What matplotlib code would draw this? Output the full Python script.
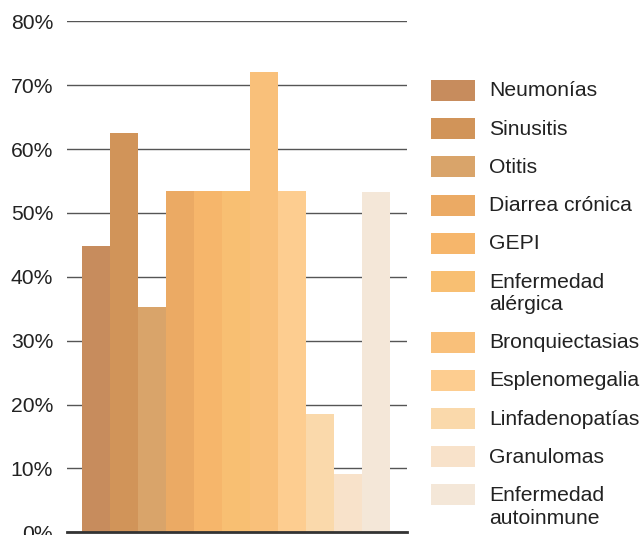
import matplotlib
matplotlib.use("Agg")
import matplotlib.pyplot as plt
from matplotlib.patches import Rectangle

plt.rcParams['font.family'] = ['Liberation Sans', 'DejaVu Sans']

# Prevalence of clinical manifestations (% of patients)
categories = [
    "Neumonías", "Sinusitis", "Otitis", "Diarrea crónica", "GEPI",
    "Enfermedad\nalérgica", "Bronquiectasias", "Esplenomegalia",
    "Linfadenopatías", "Granulomas", "Enfermedad\nautoinmune",
]
values = [44.8, 62.5, 35.3, 53.5, 53.5, 53.5, 72.0, 53.5, 18.5, 9.2, 53.3]
colors = [
    "#C78C5D", "#D19459", "#D9A46A", "#EBAA64", "#F6B66B", "#F8BF72",
    "#F9C07A", "#FDCD90", "#FAD9AB", "#F8E2CA", "#F4E7D8",
]
y_ticks = [0, 10, 20, 30, 40, 50, 60, 70, 80]
y_tick_labels = [f"{t}%" for t in y_ticks]

W, H = 641, 535
fig = plt.figure(figsize=(W / 100, H / 100), dpi=100)
ax = fig.add_axes([67 / W, 1 - 532.3 / H, 340 / W, (532.3 - 21.3) / H])

x = list(range(len(values)))
ax.bar(x, values, width=1.0, color=colors, zorder=3, linewidth=0)

ax.set_ylim(0, 80)
ax.set_xlim(-1.036, 11.107)
ax.set_yticks(y_ticks)
ax.set_yticklabels(y_tick_labels)
ax.set_xticks([])
ax.tick_params(axis='y', length=0, pad=10, labelsize=15.2, labelcolor="#222222")
ax.yaxis.grid(True, color="#555555", linewidth=1.0, zorder=0)
ax.set_axisbelow(True)
for side in ("left", "right", "top"):
    ax.spines[side].set_visible(False)
ax.spines["bottom"].set_color("#333333")
ax.spines["bottom"].set_linewidth(2.0)
ax.spines["bottom"].set_zorder(4)

# Legend drawn by hand: swatch aligned with the first text line
top = 80.0
for label, col in zip(categories, colors):
    lines = label.split("\n")
    fig.patches.append(Rectangle((431 / W, 1 - (top + 21) / H), 44 / W, 21 / H,
                                 transform=fig.transFigure, facecolor=col,
                                 edgecolor="none"))
    for i, ln in enumerate(lines):
        fig.text(489 / W, 1 - (top + 16.5 + 23 * i) / H, ln, fontsize=15.2,
                 color="#222222", ha="left", va="baseline")
    top += 38.2 + 22.5 * (len(lines) - 1)

fig.savefig("out.png", dpi=100)
